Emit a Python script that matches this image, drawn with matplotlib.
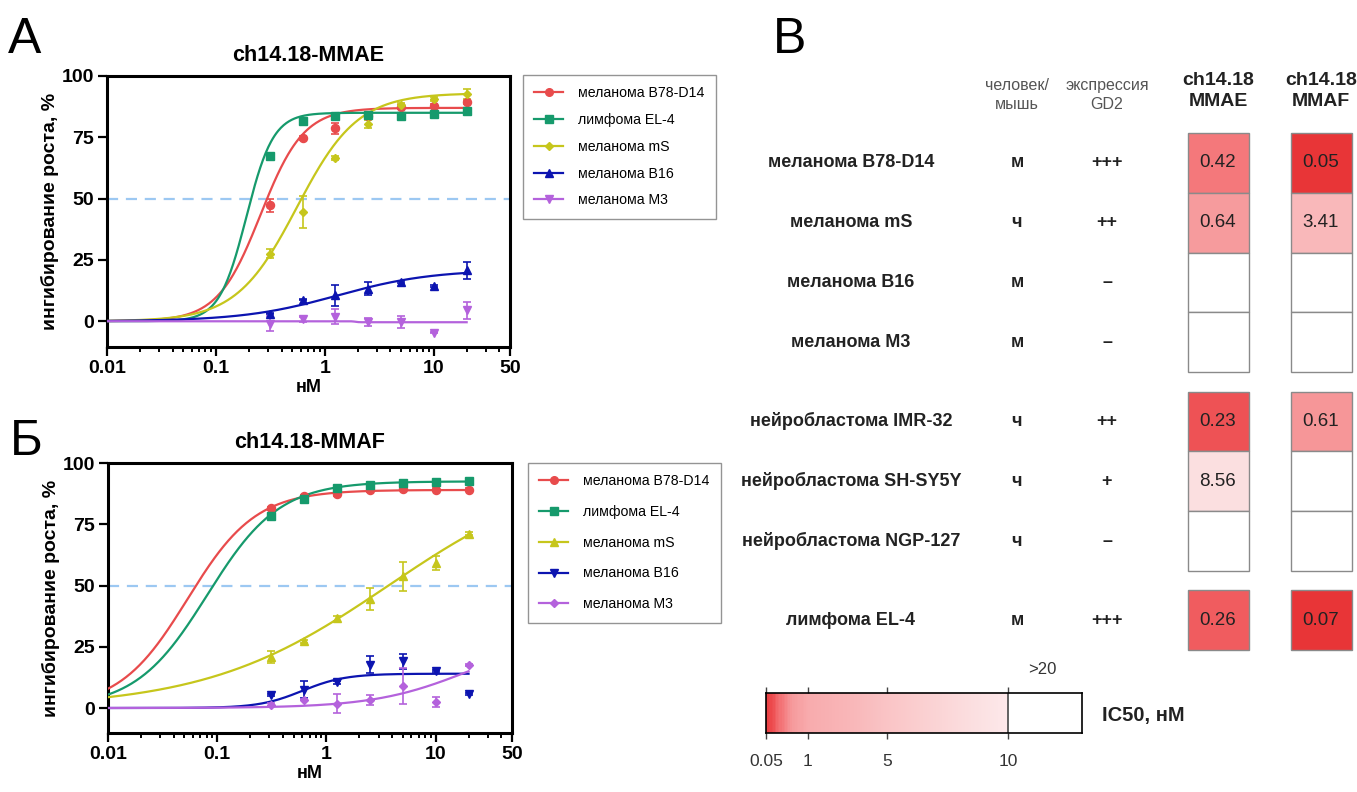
import numpy as np
import matplotlib
matplotlib.use('Agg')
import matplotlib.pyplot as plt
from matplotlib.colors import LinearSegmentedColormap, Normalize
from matplotlib.patches import Rectangle
from matplotlib.lines import Line2D

plt.rcParams['font.family'] = ['Liberation Sans', 'DejaVu Sans']

W, H = 1357, 792

# concentrations, nM
conc = [0.3125, 0.625, 1.25, 2.5, 5, 10, 20]

# --- panel A: ch14.18-MMAE ---
labels_a = ['меланома B78-D14', 'лимфома EL-4', 'меланома mS', 'меланома B16', 'меланома M3']
mmae_b78 = [47.3, 74.6, 78.6, 83.7, 87.2, 87.8, 89.3]
mmae_el4 = [67.5, 81.8, 83.8, 84.1, 83.7, 84.4, 85.7]
mmae_ms = [27.6, 44.6, 66.4, 80.4, 88.2, 90.6, 92.7]
mmae_b16 = [3.1, 8.8, 10.6, 13.3, 16.0, 14.3, 20.8]
mmae_m3 = [-1.0, 0.8, 1.8, -0.3, -0.3, -4.6, 4.5]
mmae_b78_err = [2.7, 0.8, 2.4, 1.0, 0.8, 0.8, 0.8]
mmae_el4_err = [0.8, 0.6, 0.6, 0.6, 0.6, 0.6, 0.6]
mmae_ms_err = [2.0, 6.5, 0.8, 1.5, 0.8, 0.8, 2.0]
mmae_b16_err = [0.3, 0.3, 4.3, 2.5, 0.5, 0.3, 3.5]
mmae_m3_err = [3.0, 1.0, 3.0, 1.5, 2.5, 0.3, 3.5]
# 4PL fit: bottom, top, ec50, hill
mmae_fit = [(0, 87, 0.257, 2.2), (0, 85, 0.19, 3.5), (0, 93, 0.554, 1.56),
            (0, 21, 1.3, 1.0), (0, -0.4, 1.9, 30)]

# --- panel Б: ch14.18-MMAF ---
labels_b = ['меланома B78-D14', 'лимфома EL-4', 'меланома mS', 'меланома B16', 'меланома M3']
mmaf_b78 = [81.6, 86.4, 87.3, 88.8, 89.4, 89.1, 89.1]
mmaf_el4 = [78.2, 85.4, 90.0, 91.2, 91.8, 92.2, 92.5]
mmaf_ms = [20.8, 27.2, 36.7, 44.6, 53.7, 59.2, 71.2]
mmaf_b16 = [5.4, 7.5, 10.5, 17.7, 19.0, 15.1, 5.7]
mmaf_m3 = [1.4, 3.4, 1.8, 3.4, 9.0, 2.4, 17.5]
mmaf_b78_err = [0.6, 0.6, 0.6, 0.6, 0.6, 0.6, 0.6]
mmaf_el4_err = [0.6, 0.6, 0.6, 0.6, 0.6, 0.6, 0.6]
mmaf_ms_err = [2.5, 0.5, 1.0, 4.5, 6.0, 3.0, 0.5]
mmaf_b16_err = [0.5, 3.5, 0.5, 3.5, 3.0, 0.5, 0.3]
mmaf_m3_err = [0.5, 0.3, 4.0, 2.0, 7.5, 2.0, 0.3]
mmaf_fit = [(0, 89, 0.0535, 1.39), (0, 92.5, 0.0813, 1.32), (0, 100, 3.7, 0.52),
            (0, 14, 0.6, 2.2), (0, 30, 20, 1.0)]

# --- panel В: IC50 table ---
cell_lines = ['меланома B78-D14', 'меланома mS', 'меланома B16', 'меланома M3',
              'нейробластома IMR-32', 'нейробластома SH-SY5Y', 'нейробластома NGP-127',
              'лимфома EL-4']
species = ['м', 'ч', 'м', 'м', 'ч', 'ч', 'ч', 'м']
gd2 = ['+++', '++', '–', '–', '++', '+', '–', '+++']
ic50_mmae = [0.42, 0.64, np.nan, np.nan, 0.23, 8.56, np.nan, 0.26]
ic50_mmaf = [0.05, 3.41, np.nan, np.nan, 0.61, np.nan, np.nan, 0.07]
row_group = [0, 0, 0, 0, 1, 1, 1, 2]
cbar_ticks = [0.05, 1, 5, 10]

colors = ['#e84b4c', '#169a6c', '#c6c61c', '#0c14b0', '#b462dc']
markers_a = ['o', 's', 'D', '^', 'v']
markers_b = ['o', 's', '^', 'v', 'D']


def four_pl(x, bottom, top, ec50, hill):
    return bottom + (top - bottom) / (1 + (ec50 / x) ** hill)


def draw_curves(ax, ys, errs, fits, markers, title):
    xs = np.logspace(-2, np.log10(20), 400)
    for y, e, fit, c, m in zip(ys, errs, fits, colors, markers):
        ax.plot(xs, four_pl(xs, *fit), color=c, lw=1.6, zorder=3)
        ms = 4.2 if m == 'D' else 5.8
        ax.errorbar(conc, y, yerr=e, fmt=m, color=c, ms=ms, elinewidth=1.2,
                    capsize=3, capthick=1.2, zorder=4)
    ax.axhline(50, color='#9cc8f2', lw=1.6, ls=(0, (5, 3.5)), zorder=2)
    ax.set_xscale('log')
    ax.set_xlim(0.01, 50)
    ax.set_xticks([0.01, 0.1, 1, 10, 50])
    ax.set_xticklabels(['0.01', '0.1', '1', '10', '50'])
    minors = [k * 10.0 ** d for d in range(-2, 1) for k in range(2, 10)] + [20, 30, 40]
    ax.set_xticks(minors, minor=True)
    ax.set_yticks([0, 25, 50, 75, 100])
    for s in ax.spines.values():
        s.set_linewidth(2.2)
    ax.tick_params(which='major', length=6.5, width=1.6, labelsize=14, pad=3)
    ax.tick_params(which='minor', length=3.5, width=1.4)
    for lab in ax.get_xticklabels() + ax.get_yticklabels():
        lab.set_fontweight('bold')
    ax.set_title(title, fontsize=15.5, fontweight='bold', pad=11)
    ax.set_xlabel('нМ', fontsize=13, fontweight='bold', labelpad=1)
    ax.set_ylabel('ингибирование роста, %', fontsize=14, fontweight='bold', labelpad=2)


fig = plt.figure(figsize=(W / 100, H / 100), dpi=100)

axA = fig.add_axes([107 / W, 1 - 347 / H, 403 / W, 271 / H])
draw_curves(axA, [mmae_b78, mmae_el4, mmae_ms, mmae_b16, mmae_m3],
            [mmae_b78_err, mmae_el4_err, mmae_ms_err, mmae_b16_err, mmae_m3_err],
            mmae_fit, markers_a, 'ch14.18-MMAE')
axA.set_ylim(-10.5, 100)

axB = fig.add_axes([108 / W, 1 - 733 / H, 404 / W, 270 / H])
draw_curves(axB, [mmaf_b78, mmaf_el4, mmaf_ms, mmaf_b16, mmaf_m3],
            [mmaf_b78_err, mmaf_el4_err, mmaf_ms_err, mmaf_b16_err, mmaf_m3_err],
            mmaf_fit, markers_b, 'ch14.18-MMAF')
axB.set_ylim(-10.2, 100)


def make_legend(labels, markers, anchor, spacing):
    handles = [Line2D([], [], color=c, marker=m, lw=1.6, ms=4.5 if m == 'D' else 5.5)
               for c, m in zip(colors, markers)]
    leg = fig.legend(handles, labels, loc='upper left', bbox_to_anchor=anchor,
                     fontsize=10.2, frameon=True, fancybox=False, edgecolor='#7a7a7a',
                     handlelength=2.0, handletextpad=1.1, labelspacing=spacing,
                     borderpad=0.8, borderaxespad=0)
    leg.get_frame().set_linewidth(1.0)


make_legend(labels_a, markers_a, (523 / W, 1 - 75 / H), 0.9)
make_legend(labels_b, markers_b, (528 / W, 1 - 463 / H), 1.18)

# panel letters
fig.text(8 / W, 1 - 53 / H, 'А', fontsize=36, va='baseline')
fig.text(10 / W, 1 - 455 / H, 'Б', fontsize=36, va='baseline')
fig.text(773 / W, 1 - 53 / H, 'В', fontsize=36, va='baseline')

# --- IC50 table (pixel layout axes) ---
anchor_vals = [0.05, 0.07, 0.23, 0.26, 0.42, 0.62, 1.0, 3.41, 8.56, 10]
anchor_cols = ['#e83537', '#ea4043', '#ef5558', '#f06265', '#f47b7e', '#f69a9c',
               '#f8abad', '#f9b8ba', '#fbdfe0', '#fde8ea']
norm = Normalize(0.05, 10)
cmap = LinearSegmentedColormap.from_list(
    'ic50', [(norm(v), c) for v, c in zip(anchor_vals, anchor_cols)])

axT = fig.add_axes([0, 0, 1, 1], zorder=-1)
axT.set_xlim(0, W)
axT.set_ylim(H, 0)
axT.axis('off')

slot, gap, top0 = 59.8, 19.3, 133
col_x = {'name': 851, 'sp': 1017, 'gd2': 1107, 'mmae': 1218, 'mmaf': 1321}
cell_w = 61

for i, name in enumerate(cell_lines):
    top = top0 + slot * i + gap * row_group[i]
    yc = top + slot / 2
    axT.text(col_x['name'], yc, name, ha='center', va='center', fontsize=13,
             fontweight='bold', color='#222222')
    axT.text(col_x['sp'], yc, species[i], ha='center', va='center', fontsize=13,
             fontweight='bold', color='#222222')
    axT.text(col_x['gd2'], yc, gd2[i], ha='center', va='center', fontsize=13,
             fontweight='bold', color='#222222')
    for key, vals in (('mmae', ic50_mmae), ('mmaf', ic50_mmaf)):
        v = vals[i]
        fc = 'white' if np.isnan(v) else cmap(norm(v))
        axT.add_patch(Rectangle((col_x[key] - cell_w / 2, top), cell_w, slot,
                                facecolor=fc, edgecolor='#8a8a8a', lw=1.0))
        if not np.isnan(v):
            axT.text(col_x[key], yc, f'{v:.2f}', ha='center', va='center',
                     fontsize=13.5, color='#222222')

axT.text(col_x['sp'], 95, 'человек/\nмышь', ha='center', va='center', fontsize=11.5,
         color='#555555', linespacing=1.3)
axT.text(col_x['gd2'], 95, 'экспрессия\nGD2', ha='center', va='center', fontsize=11.5,
         color='#555555', linespacing=1.3)
axT.text(col_x['mmae'], 91, 'ch14.18\nMMAE', ha='center', va='center', fontsize=14,
         fontweight='bold', color='#222222', linespacing=1.25)
axT.text(col_x['mmaf'], 91, 'ch14.18\nMMAF', ha='center', va='center', fontsize=14,
         fontweight='bold', color='#222222', linespacing=1.25)
axT.text(1042, 670, '>20', ha='center', va='center', fontsize=12, color='#333333')
axT.text(1102, 715, 'IC50, нМ', ha='left', va='center', fontsize=14.5,
         fontweight='bold', color='#222222')

# --- colour bar with piecewise scale ---
cb_vals = [0.05, 1, 5, 10, 20]
cb_pos = [0, 42, 121, 242, 316]


def fwd(v):
    return np.interp(v, cb_vals, cb_pos)


def inv(p):
    return np.interp(p, cb_pos, cb_vals)


axC = fig.add_axes([766 / W, 1 - 733 / H, 316 / W, 40 / H])
axC.set_xscale('function', functions=(fwd, inv))
edges = np.linspace(0.05, 10, 300)
mids = (edges[:-1] + edges[1:]) / 2
axC.pcolormesh(edges, [0, 1], mids[np.newaxis, :], cmap=cmap, norm=norm, shading='flat')
axC.axvline(10, color='#555555', lw=1.3)
axC.set_xlim(0.05, 20)
axC.set_ylim(0, 1)
axC.set_yticks([])
axC.set_xticks(cbar_ticks)
axC.set_xticklabels(['0.05', '1', '5', '10'])
axC.xaxis.set_minor_locator(matplotlib.ticker.NullLocator())
axC.tick_params(axis='x', direction='out', top=True, bottom=True, length=4, width=1,
                color='#444444', labelsize=12.5, labelcolor='#333333', pad=11)
for s in axC.spines.values():
    s.set_linewidth(1.2)

fig.savefig('out.png', dpi=100)
